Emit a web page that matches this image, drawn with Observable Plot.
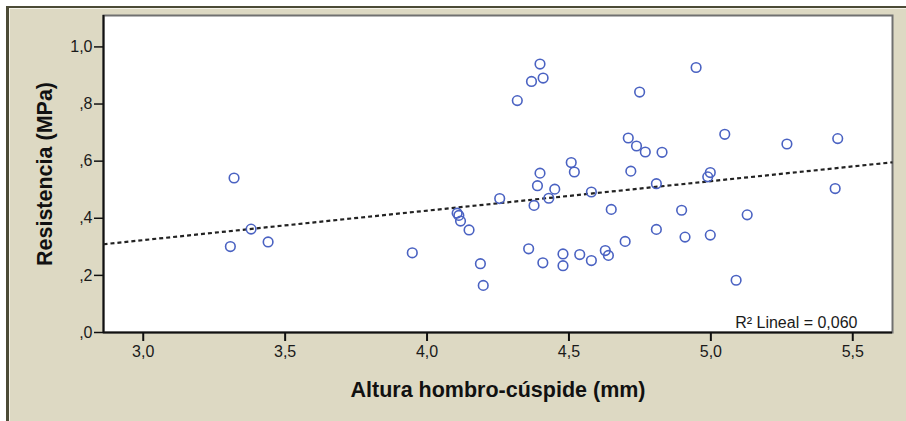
<!DOCTYPE html>
<html>
<head>
<meta charset="utf-8">
<script src="https://cdn.jsdelivr.net/npm/d3@7"></script>
<script src="https://cdn.jsdelivr.net/npm/@observablehq/plot@0.6"></script>
<style>
  html, body { margin: 0; padding: 0; background: #ffffff; width: 906px; height: 421px; overflow: hidden; }
  #frame {
    position: absolute; left: 6px; top: 6px; right: 0; bottom: 0;
    background: #ddd9c3;
    border-left: 3px solid #4c4b36; border-top: 2px solid #4c4b36;
    box-shadow: inset 1px 1px 0 #f4f2e8;
  }
  #chart { position: absolute; left: 0; top: 0; }
  #chart svg { overflow: visible; }
</style>
</head>
<body>
<div id="frame"></div>
<div id="chart"></div>
<script>
// Data
const alturaX = [3.32, 3.307, 3.38, 3.44, 3.948, 4.106, 4.112, 4.118, 4.148, 4.188, 4.198, 4.256,
  4.318, 4.368, 4.398, 4.409, 4.398, 4.389, 4.450, 4.429, 4.377, 4.358, 4.408, 4.479, 4.479,
  4.508, 4.519, 4.579, 4.538, 4.579, 4.628, 4.639, 4.649, 4.698, 4.709, 4.738, 4.769, 4.718,
  4.749, 4.828, 4.808, 4.808, 4.897, 4.909, 4.948, 4.998, 4.989, 4.998, 5.049, 5.089, 5.128,
  5.268, 5.447, 5.438];
const resistenciaY = [0.541, 0.301, 0.362, 0.317, 0.279, 0.418, 0.410, 0.390, 0.359, 0.241, 0.165, 0.469,
  0.812, 0.879, 0.940, 0.891, 0.558, 0.514, 0.502, 0.470, 0.445, 0.293, 0.244, 0.275, 0.234,
  0.595, 0.562, 0.492, 0.273, 0.252, 0.287, 0.270, 0.431, 0.319, 0.681, 0.653, 0.632, 0.565,
  0.842, 0.631, 0.521, 0.361, 0.428, 0.334, 0.928, 0.560, 0.545, 0.341, 0.694, 0.183, 0.412,
  0.660, 0.679, 0.504];
// Fitted linear regression line (endpoints at the domain edges)
const fitX = [2.86, 5.64];
const fitY = [0.309, 0.596];
const xTicks = [3.0, 3.5, 4.0, 4.5, 5.0, 5.5];
const yTicks = [0, 0.2, 0.4, 0.6, 0.8, 1.0];
const xTitle = "Altura hombro-cúspide (mm)";
const yTitle = "Resistencia (MPa)";
const r2Label = "R² Lineal = 0,060";

const points = alturaX.map((x, i) => ({x, y: resistenciaY[i]}));
const fit = fitX.map((x, i) => ({x, y: fitY[i]}));

const fmtX = d => d3.format(".1f")(d).replace(".", ",");
const fmtY = d => {
  const s = d3.format(".1f")(d).replace(".", ",");
  return s.startsWith("0") ? s.slice(1) : s;
};

const font = "'Liberation Sans', Arial, sans-serif";

const chart = Plot.plot({
  width: 906,
  height: 421,
  marginLeft: 103,
  marginRight: 14,
  marginTop: 15,
  marginBottom: 89,
  style: {background: "transparent", fontFamily: font, fontSize: "16px", color: "#1a1a1a", overflow: "visible"},
  x: {domain: [2.86, 5.64]},
  y: {domain: [0, 1.11]},
  marks: [
    Plot.frame({fill: "white", stroke: "#707070", strokeWidth: 2}),
    Plot.axisX({ticks: xTicks, tickFormat: fmtX, tickSize: 9, tickPadding: 4, label: null, stroke: "#111", strokeWidth: 2, fontSize: 16}),
    Plot.axisY({ticks: yTicks, tickFormat: fmtY, tickSize: 9, tickPadding: 2, label: null, stroke: "#111", strokeWidth: 1.5, fontSize: 16}),
    Plot.ruleY([0], {stroke: "#111", strokeWidth: 2}),
    Plot.ruleX([2.86], {stroke: "#111", strokeWidth: 2}),
    Plot.line(fit, {x: "x", y: "y", stroke: "#222", strokeWidth: 2.2, strokeDasharray: "4,3", strokeLinecap: "butt"}),
    Plot.dot(points, {x: "x", y: "y", r: 4.8, stroke: "#4a62c2", strokeWidth: 1.6, fill: "none"}),
    Plot.text([r2Label], {frameAnchor: "bottom-right", dx: -35, dy: -10, textAnchor: "end", lineAnchor: "middle", fontSize: 16, fill: "#1a1a1a"}),
    Plot.text([xTitle], {frameAnchor: "bottom", dy: 58, textAnchor: "middle", lineAnchor: "middle", fontSize: 21.5, fontWeight: "bold", fill: "#111"}),
    Plot.text([yTitle], {frameAnchor: "left", dx: -58, rotate: -90, textAnchor: "middle", lineAnchor: "middle", fontSize: 21.5, fontWeight: "bold", fill: "#111"})
  ]
});
document.getElementById("chart").appendChild(chart);
</script>
</body>
</html>
